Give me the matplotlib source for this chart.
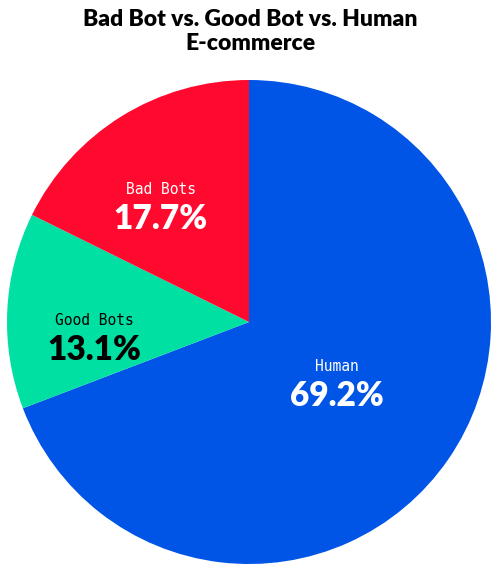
import numpy as np
import matplotlib.pyplot as plt

# data
labels = ["Human", "Good Bots", "Bad Bots"]
shares = [69.2, 13.1, 17.7]
colors = ["#0055E6", "#00E0A3", "#FF0A2E"]
text_colors = ["white", "black", "white"]

# label placement: radius fraction along mid angle, plus small nudges
label_radius = [0.44, 0.64, 0.62]
nudge_x = [0.0, 0.0, -0.037]
nudge_y = [0.0, -0.09, -0.045]

fig = plt.figure(figsize=(5, 5.75), dpi=100)
ax = fig.add_axes([0.014, 0.019, 0.968, 0.842])

wedges, _ = ax.pie(shares, colors=colors, startangle=90, counterclock=False,
                   wedgeprops={"linewidth": 0})

for i, w in enumerate(wedges):
    mid = np.deg2rad((w.theta1 + w.theta2) / 2)
    x = label_radius[i] * np.cos(mid) + nudge_x[i]
    y = label_radius[i] * np.sin(mid) + nudge_y[i]
    ax.text(x, y + 0.065, labels[i], ha="center", va="center", color=text_colors[i],
            fontsize=10.5, family="DejaVu Sans Mono")
    ax.text(x, y - 0.055, f"{shares[i]}%", ha="center", va="center",
            color=text_colors[i], fontsize=24, fontweight="heavy", family="Lato")

ax.set_xlim(-1, 1)
ax.set_ylim(-1, 1)
ax.set_aspect("equal")

fig.text(0.5, 0.945, "Bad Bot vs. Good Bot vs. Human\nE-commerce", ha="center",
         va="center", fontsize=16.5, fontweight="heavy", family="Lato",
         linespacing=1.15)

plt.savefig("out.png", dpi=100)
